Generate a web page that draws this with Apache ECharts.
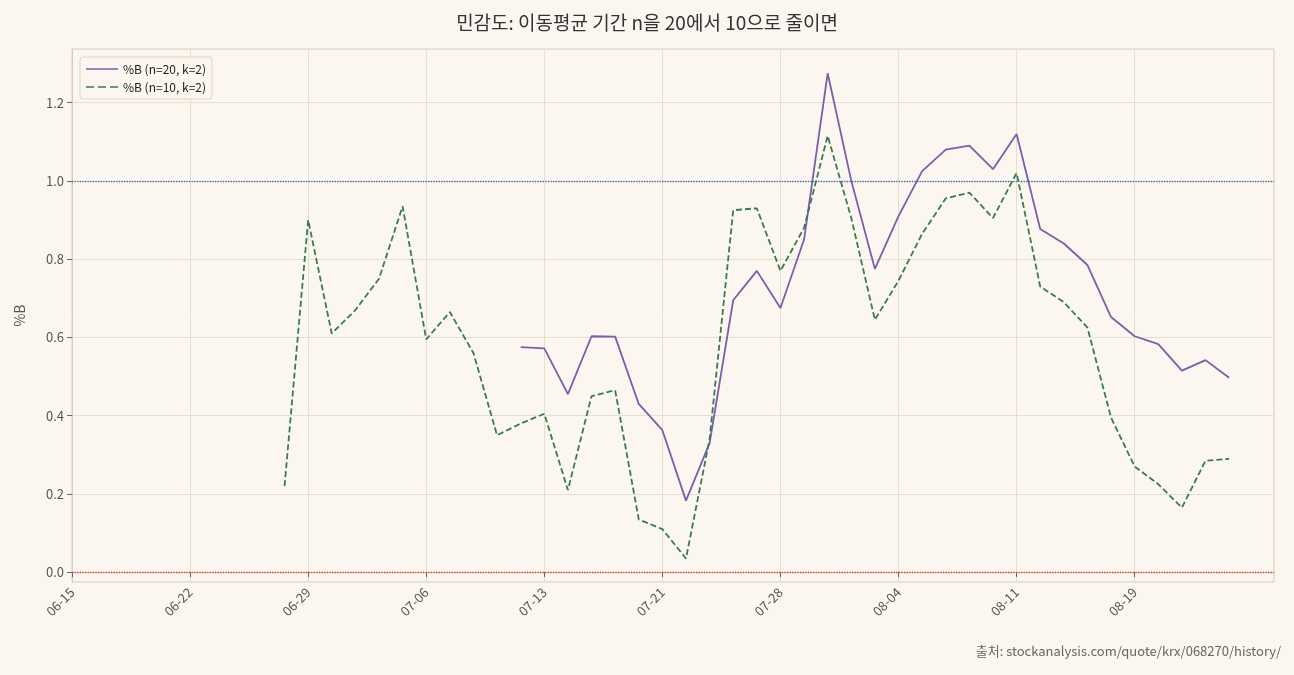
<!DOCTYPE html>
<html><head><meta charset="utf-8">
<script src="https://cdn.jsdelivr.net/npm/echarts@6/dist/echarts.min.js"></script>
<style>html,body{margin:0;background:#fbf7f0}#c{width:1294px;height:675px}</style>
</head><body><div id="c"></div>
<script>
const tickLabels = ['06-15','06-22','06-29','07-06','07-13','07-21','07-28','08-04','08-11','08-19'];
const yTicks = [0, 0.2, 0.4, 0.6, 0.8, 1.0, 1.2];
const startN10 = 9;
const pbN10 = [0.22,0.90,0.61,0.67,0.75,0.935,0.595,0.665,0.56,0.35,0.38,0.405,0.21,0.45,0.465,0.135,0.11,0.035,0.34,0.925,0.93,0.77,0.88,1.115,0.905,0.645,0.745,0.865,0.955,0.97,0.905,1.02,0.73,0.69,0.625,0.395,0.27,0.225,0.165,0.285,0.29];
const startN20 = 19;
const pbN20 = [0.575,0.572,0.455,0.603,0.602,0.43,0.363,0.183,0.33,0.695,0.77,0.675,0.85,1.275,1.0,0.775,0.91,1.025,1.08,1.09,1.03,1.12,0.877,0.84,0.785,0.652,0.603,0.583,0.515,0.542,0.497];
const tickIdx = tickLabels.map((_, i) => i * 5);
const font = '"Noto Sans CJK KR","Noto Sans",sans-serif';
const chart = echarts.init(document.getElementById('c'));
chart.setOption({
  backgroundColor: '#fbf7f0',
  textStyle: {fontFamily: font},
  title: {text: '민감도: 이동평균 기간 n을 20에서 10으로 줄이면', left: 'center', top: 8,
    textStyle: {fontSize: 19, fontWeight: 'normal', color: '#333', fontFamily: font}},
  graphic: [{type: 'text', right: 13, top: 645, style: {text: '출처: stockanalysis.com/quote/krx/068270/history/', fill: '#666', fontSize: 13, fontFamily: font}}],
  legend: {left: 80, top: 57, orient: 'vertical', itemWidth: 32, itemHeight: 8, itemGap: 6,
    backgroundColor: '#fbf7f0', borderColor: '#ddd4c0', borderWidth: 1, borderRadius: 3, padding: [6, 6],
    textStyle: {fontSize: 12, color: '#222'},
    data: [{name: '%B (n=20, k=2)', icon: 'path://M0,3.5L32,3.5L32,5L0,5Z'}, {name: '%B (n=10, k=2)', icon: 'path://M0,3.5L8,3.5L8,5L0,5ZM12,3.5L20,3.5L20,5L12,5ZM24,3.5L32,3.5L32,5L24,5Z'}]},
  grid: {left: 72, right: 20, top: 49, bottom: 93, show: true, borderColor: '#d8ccb4', borderWidth: 1, backgroundColor: 'transparent'},
  xAxis: {type: 'value', min: 0, max: 50.9,
    axisLine: {lineStyle: {color: '#d8ccb4'}},
    axisTick: {customValues: tickIdx, lineStyle: {color: '#666'}},
    axisLabel: {customValues: tickIdx, formatter: v => tickLabels[Math.round(v / 5)] || '', rotate: 45, color: '#555', fontSize: 13, margin: 8},
    splitLine: {show: true, lineStyle: {color: '#e6dfca'}}},
  yAxis: {type: 'value', min: -0.025, max: 1.337, name: '%B', nameLocation: 'middle', nameGap: 45,
    nameTextStyle: {color: '#555', fontSize: 14},
    axisLine: {show: true, lineStyle: {color: '#d8ccb4'}},
    axisTick: {show: true, customValues: yTicks, lineStyle: {color: '#666'}},
    axisLabel: {customValues: yTicks, color: '#555', fontSize: 13, formatter: v => v.toFixed(1)},
    splitLine: {lineStyle: {color: '#e6dfca'}}},
  series: [
    {name: '%B (n=20, k=2)', type: 'line', symbol: 'none', color: '#7b5ea7', lineStyle: {width: 1.8},
      data: pbN20.map((v, i) => [startN20 + i, v]),
      markLine: {silent: true, symbol: 'none', label: {show: false},
        data: [{yAxis: 1, lineStyle: {color: '#3a6fb0', type: 'dotted', width: 1.3}}, {yAxis: 0, lineStyle: {color: '#d04040', type: 'dotted', width: 1.3}}]}},
    {name: '%B (n=10, k=2)', type: 'line', symbol: 'none', color: '#3a7a50', lineStyle: {width: 1.8, type: [6, 3]},
      data: pbN10.map((v, i) => [startN10 + i, v])}
  ]
});
</script></body></html>
